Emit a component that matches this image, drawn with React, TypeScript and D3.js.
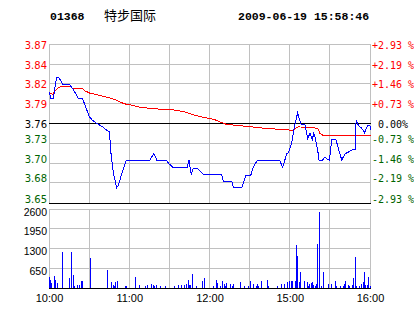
import React from "react";
import * as d3 from "d3";

const stockCode = "01368";
const stockName = "特步国际";
const timestamp = "2009-06-19 15:58:46";
const basePrice = 3.76;
const pctTicks = [2.93, 2.19, 1.46, 0.73, 0, -0.73, -1.46, -2.19, -2.93];
const priceTickLabels = ["3.87", "3.84", "3.82", "3.79", "3.76", "3.73", "3.70", "3.68", "3.65"];
const pctTickLabels = ["+2.93 %", "+2.19 %", "+1.46 %", "+0.73 %", " 0.00%", "-0.73 %", "-1.46 %", "-2.19 %", "-2.93 %"];
const gridMinutes = [0, 30, 60, 90, 120, 150, 180, 210, 240];
const timeTickMinutes = [0, 60, 120, 180, 240];
const timeTickLabels = ["10:00", "11:00", "12:00", "15:00", "16:00"];
const volTicks = [650, 1300, 1950, 2600];

// [minute since 10:00 (lunch break removed), price]
const priceLine: [number, number][] = [
  [0, 3.804], [1, 3.795], [3, 3.795], [3.5, 3.804], [4.7, 3.818], [5.5, 3.825], [6.5, 3.825],
  [8.5, 3.82], [9.75, 3.815], [14.8, 3.815], [17.25, 3.809], [19.7, 3.802], [21.5, 3.795],
  [24.75, 3.795], [27.2, 3.783], [29.8, 3.77], [32.25, 3.765], [36, 3.76], [39.75, 3.756],
  [43, 3.751], [44.8, 3.749], [46, 3.719], [47.8, 3.691], [50.25, 3.672], [51.5, 3.675],
  [54, 3.691], [57.5, 3.71], [75, 3.71], [78, 3.719], [80.25, 3.71], [87.4, 3.71],
  [89.25, 3.705], [92.25, 3.7], [103, 3.7], [104.25, 3.71], [106, 3.69], [107.5, 3.699],
  [110, 3.699], [112.5, 3.695], [115, 3.69], [128.75, 3.69], [130, 3.681], [136.25, 3.681],
  [137.5, 3.672], [143.75, 3.672], [147, 3.689], [150.5, 3.689], [152.5, 3.701], [155.5, 3.71],
  [172, 3.71], [174.25, 3.7], [177.5, 3.719], [178.5, 3.72], [181, 3.733], [183.5, 3.76],
  [185.5, 3.775], [186.5, 3.769], [188, 3.76], [191, 3.759], [193, 3.74], [194.75, 3.747],
  [196.5, 3.738], [197.5, 3.747], [198.5, 3.742], [200.5, 3.724], [201.5, 3.71], [204.25, 3.71],
  [205.5, 3.714], [207.25, 3.712], [209.25, 3.71], [211, 3.738], [214.25, 3.738], [216, 3.726],
  [218.5, 3.71], [221, 3.719], [223.5, 3.721], [226, 3.724], [228.5, 3.724], [229.25, 3.765],
  [231, 3.758], [233.5, 3.754], [235.5, 3.748], [238, 3.758], [239.6, 3.758], [240, 3.751],
];

const avgLine: [number, number][] = [
  [0, 3.803], [2.25, 3.801], [4.7, 3.807], [7.3, 3.811], [9, 3.812], [16, 3.812], [17.25, 3.809],
  [24.75, 3.809], [26.5, 3.806], [29.8, 3.803], [34.7, 3.801], [41, 3.798], [47.25, 3.795],
  [51, 3.792], [56, 3.788], [61.5, 3.786], [68.5, 3.783], [78.5, 3.781], [91, 3.78],
  [101, 3.777], [108.5, 3.772], [116, 3.769], [123.5, 3.766], [127.25, 3.763], [132.25, 3.7595],
  [141, 3.758], [151, 3.756], [161, 3.754], [177.25, 3.752], [182.25, 3.751], [183.5, 3.754],
  [186, 3.756], [196, 3.755], [200.5, 3.754], [202.25, 3.747], [204.75, 3.744], [240, 3.744],
];

const volumeBars: [number, number][] = [
  [0, 350], [1, 270], [2, 165], [4, 385], [5, 270], [6, 165], [10, 1170], [15, 315], [17, 1170],
  [18, 440], [19, 75], [21, 110], [23, 110], [24, 240], [25, 240], [31, 990], [44, 600], [47, 185],
  [48, 110], [49, 80], [50, 185], [51, 220], [57, 80], [58, 80], [65, 360], [68, 110], [72, 80],
  [74, 110], [77, 140], [78, 110], [79, 80], [80, 110], [83, 80], [87, 80], [94, 80], [97, 110],
  [99, 110], [101, 110], [103, 140], [104, 250], [105, 110], [106, 110], [107, 470], [110, 80],
  [115, 240], [116, 340], [123, 80], [125, 270], [126, 165], [128, 80], [130, 240], [131, 140],
  [132, 80], [133, 170], [136, 140], [137, 80], [138, 140], [143, 210], [146, 80], [149, 80],
  [151, 240], [153, 140], [155, 80], [156, 140], [157, 80], [159, 240], [163, 270], [164, 80],
  [171, 80], [174, 140], [176, 140], [178, 200], [180, 240], [181, 220], [182, 240], [184, 240],
  [185, 1425], [186, 1040], [187, 185], [188, 515], [191, 220], [193, 185], [194, 80], [195, 120],
  [196, 165], [197, 185], [198, 110], [199, 80], [200, 140], [201, 1460], [202, 2500], [204, 80],
  [205, 515], [209, 140], [211, 140], [214, 240], [215, 80], [218, 80], [220, 80], [221, 140],
  [222, 240], [224, 110], [225, 80], [227, 110], [228, 340], [229, 1030], [230, 80], [232, 80],
  [234, 140], [235, 210], [236, 535], [237, 110], [238, 110], [239, 370], [240, 80],
];

const W = 414;
const H = 314;
const GRID = "#c0c0c0";
const GREEN = "#006400";

export default function App() {
  const x = d3.scaleLinear().domain([0, 240]).range([49, 370]);
  const px = (m: number) => Math.floor(x(m)) + 0.5;
  const pMin = basePrice * (1 - 0.0293);
  const pMax = basePrice * (1 + 0.0293);
  const y = d3.scaleLinear().domain([pMin, pMax]).range([203, 44]);
  const py = (v: number) => Math.floor(y(v)) + 0.5;
  const yv = d3.scaleLinear().domain([0, 2600]).range([288, 209]);
  const pyv = (v: number) => Math.floor(yv(v)) + 0.5;

  const line = d3
    .line<[number, number]>()
    .x((d) => x(d[0]) + 0.5)
    .y((d) => y(d[1]) + 0.5);

  const labelColor = (p: number) => (p > 0 ? "#ff0000" : p < 0 ? GREEN : "#000000");
  const labelDy = (p: number) => (p >= 0 ? 4 : -1);

  return (
    <svg
      width={W}
      height={H}
      style={{ position: "absolute", left: 0, top: 0, background: "#fff" }}
    >
      <rect x={0} y={0} width={W} height={H} fill="#fff" />
      {/* header */}
      <text x={50} y={20} fontFamily="'Liberation Mono', 'DejaVu Sans Mono', monospace" fontWeight="bold" fontSize={11.5} fill="#000">
        {stockCode}
      </text>
      <text x={104} y={19.5} fontFamily="'Noto Sans CJK SC', sans-serif" fontSize={13} fill="#000">
        {stockName}
      </text>
      <text x={238} y={20} fontFamily="'Liberation Mono', 'DejaVu Sans Mono', monospace" fontWeight="bold" fontSize={11.5} fill="#000">
        {timestamp}
      </text>

      {/* price grid */}
      <g shapeRendering="crispEdges">
        {pctTicks.map((p, i) => {
          const yy = py(basePrice * (1 + p / 100));
          const stroke = p === 0 || i === pctTicks.length - 1 ? "#000" : GRID;
          if (p === 0 || i === pctTicks.length - 1) return null;
          return <line key={"hg" + i} x1={x(0)} x2={x(240) + 1} y1={yy} y2={yy} stroke={stroke} />;
        })}
        {gridMinutes.map((m, i) => (
          <line key={"vg" + i} x1={px(m)} x2={px(m)} y1={py(pMax)} y2={py(pMin)} stroke={GRID} />
        ))}
        {/* volume grid */}
        {volTicks.map((v, i) => (
          <line key={"vh" + i} x1={x(0)} x2={x(240) + 1} y1={pyv(v)} y2={pyv(v)} stroke={GRID} />
        ))}
        {gridMinutes.map((m, i) => (
          <line key={"vv" + i} x1={px(m)} x2={px(m)} y1={pyv(2600)} y2={pyv(0)} stroke={GRID} />
        ))}
        <line x1={x(0)} x2={x(240) + 1} y1={py(basePrice)} y2={py(basePrice)} stroke="#000" />
        <line x1={x(0)} x2={x(240) + 1} y1={py(pMin)} y2={py(pMin)} stroke="#000" />
        <line x1={x(0)} x2={x(240) + 1} y1={pyv(0)} y2={pyv(0)} stroke="#000" />
      </g>

      {/* volume bars */}
      <g shapeRendering="crispEdges" fill="#0000ff">
        {volumeBars.map(([m, v], i) => {
          const top = Math.round(yv(v));
          return <rect key={"b" + i} x={Math.floor(x(m))} y={top} width={1} height={Math.max(1, Math.floor(yv(0)) - top)} />;
        })}
      </g>

      {/* lines */}
      <path d={line(avgLine) || ""} fill="none" stroke="#ff0000" strokeWidth={1} shapeRendering="crispEdges" />
      <path d={line(priceLine) || ""} fill="none" stroke="#0000ff" strokeWidth={1} shapeRendering="crispEdges" />

      {/* price axis labels */}
      {pctTicks.map((p, i) => {
        const yy = py(basePrice * (1 + p / 100)) + labelDy(p);
        return (
          <g key={"lbl" + i}>
            <text x={47} y={yy} textAnchor="end" fontFamily="'DejaVu Sans', sans-serif" fontSize={10} fill={labelColor(p)}>
              {priceTickLabels[i]}
            </text>
            <text x={372} y={yy} fontFamily="'DejaVu Sans Mono', monospace" fontSize={10} fill={labelColor(p)} style={{ whiteSpace: "pre" }}>
              {pctTickLabels[i]}
            </text>
          </g>
        );
      })}

      {/* volume labels */}
      {volTicks.map((v, i) => (
        <text key={"vl" + i} x={47} y={pyv(v) + 6} textAnchor="end" fontFamily="'Liberation Sans', Arial, sans-serif" fontSize={10.5} fill="#000">
          {String(v)}
        </text>
      ))}

      {/* time labels */}
      {timeTickMinutes.map((m, i) => (
        <text key={"tl" + i} x={x(m) + 0.5} y={302} textAnchor="middle" fontFamily="'Liberation Sans', Arial, sans-serif" fontSize={11} fill="#000">
          {timeTickLabels[i]}
        </text>
      ))}
    </svg>
  );
}
